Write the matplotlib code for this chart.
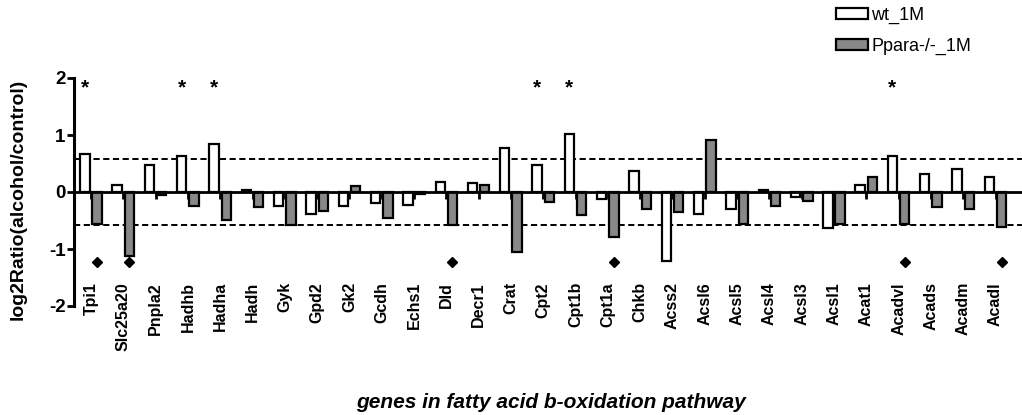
import numpy as np
import matplotlib.pyplot as plt
from matplotlib.patches import Patch

plt.rcParams['font.family'] = ['Liberation Sans', 'DejaVu Sans']

genes = ["Tpi1", "Slc25a20", "Pnpla2", "Hadhb", "Hadha", "Hadh", "Gyk", "Gpd2",
         "Gk2", "Gcdh", "Echs1", "Dld", "Decr1", "Crat", "Cpt2", "Cpt1b", "Cpt1a",
         "Chkb", "Acss2", "Acsl6", "Acsl5", "Acsl4", "Acsl3", "Acsl1", "Acat1",
         "Acadvl", "Acads", "Acadm", "Acadl"]

wt_1m = [0.67, 0.12, 0.47, 0.64, 0.84, 0.04, -0.25, -0.39,
         -0.25, -0.20, -0.23, 0.17, 0.15, 0.78, 0.48, 1.02, -0.13,
         0.37, -1.21, -0.39, -0.30, 0.04, -0.09, -0.63, 0.13,
         0.64, 0.32, 0.41, 0.26]

ppara_1m = [-0.56, -1.12, -0.06, -0.25, -0.50, -0.27, -0.58, -0.34,
            0.11, -0.46, -0.03, -0.58, 0.12, -1.05, -0.18, -0.41, -0.79,
            -0.30, -0.35, 0.92, -0.56, -0.25, -0.15, -0.56, 0.26,
            -0.56, -0.27, -0.30, -0.62]

# significance marks
star_genes = ["Tpi1", "Hadhb", "Hadha", "Cpt2", "Cpt1b", "Acadvl"]
diamond_genes = ["Tpi1", "Slc25a20", "Dld", "Cpt1a", "Acadvl", "Acadl"]

cutoff = 0.585  # log2(1.5)
stub = 0.13

fig = plt.figure(figsize=(10.22, 4.15), dpi=100)
ax = fig.add_axes([74 / 1022, 109 / 415, 948 / 1022, 228 / 415])

x = np.arange(len(genes))
off = 0.19
w = 0.29
ax.bar(x - off, wt_1m, width=w, color="white", edgecolor="black", linewidth=1.6, zorder=3)
ax.bar(x + off, ppara_1m, width=w, color="#888888", edgecolor="black", linewidth=1.6, zorder=3)

# small error stubs between the bars
ax.vlines(x, -stub, 0, color="black", linewidth=2.0, zorder=4)

ax.axhline(0, color="black", linewidth=2.0, zorder=5)
for yv in (cutoff, -cutoff):
    ax.axhline(yv, color="black", linewidth=1.4, linestyle=(0, (3.2, 1.8)), zorder=2)

for g in star_genes:
    i = genes.index(g)
    ax.text(i - off, 1.82, "*", ha="center", va="center", fontsize=15,
            fontweight="bold", zorder=6)
for g in diamond_genes:
    i = genes.index(g)
    ax.plot(i + off, -1.23, marker="D", color="black", markersize=5.5,
            linestyle="none", zorder=6)

# gene labels sit inside the bottom of the plot, rotated
for i, g in enumerate(genes):
    ax.text(i, -1.58, g, rotation=90, ha="center", va="top", fontsize=11.5,
            fontweight="bold", clip_on=False)

ax.set_xlim(-0.526, 28.82)
ax.set_ylim(-2, 2)
ax.set_yticks([-2, -1, 0, 1, 2])
ax.set_yticklabels(["-2", "-1", "0", "1", "2"], fontsize=13.5, fontweight="bold")
ax.set_xticks([])
for s in ("top", "right", "bottom"):
    ax.spines[s].set_visible(False)
ax.spines["left"].set_linewidth(2.2)
ax.tick_params(axis="y", direction="out", length=5, width=2, pad=1)

fig.text(18 / 1022, 1 - 199 / 415, "log2Ratio(alcohol/control)", rotation=90,
         ha="center", va="center", fontsize=14, fontweight="bold")
fig.text(551 / 1022, 1 - 402 / 415, "genes in fatty acid b-oxidation pathway",
         ha="center", va="center", fontsize=15, fontweight="bold", style="italic")

handles = [Patch(facecolor="white", edgecolor="black", linewidth=1.6, label="wt_1M"),
           Patch(facecolor="#888888", edgecolor="black", linewidth=1.6, label="Ppara-/-_1M")]
fig.legend(handles=handles, loc="upper left", bbox_to_anchor=(836 / 1022, 1 - 7 / 415),
           frameon=False, fontsize=13, handlelength=1.75, handleheight=0.6,
           handletextpad=0.2, labelspacing=0.75, borderpad=0, borderaxespad=0)

fig.savefig("out.png", dpi=100)
